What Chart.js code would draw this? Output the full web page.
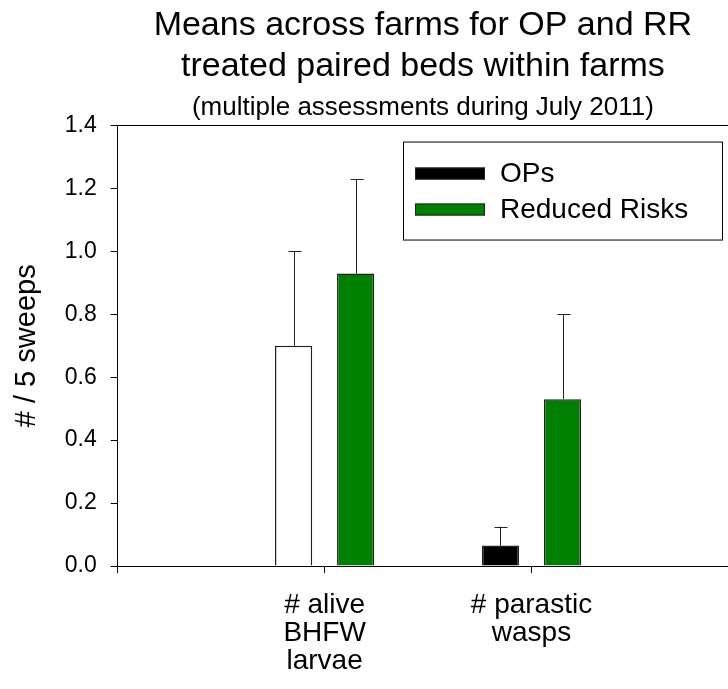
<!DOCTYPE html>
<html lang="en">
<head>
<meta charset="UTF-8">
<title>Means across farms for OP and RR</title>
<script src="https://cdn.jsdelivr.net/npm/chart.js"></script>
<style>
  html, body { margin: 0; padding: 0; background: #fff; }
  .chart { width: 728px; height: 689px; }
</style>
</head>
<body>
<div class="chart"><canvas id="farmChart"></canvas></div>
<script>
const categories = [['# alive', 'BHFW', 'larvae'], ['# parastic', 'wasps']];
const categoryPositions = [1, 2];
const opsMeans = [0.70, 0.065];
const opsErrors = [0.30, 0.06];
const rrMeans = [0.93, 0.53];
const rrErrors = [0.30, 0.27];
const opsFills = ['#ffffff', '#000000'];

const FONT = "'Liberation Sans', Arial, sans-serif";

// upward-only error bars, drawn from each bar top
const errorBars = {
  id: 'errorBars',
  afterDatasetsDraw(chart) {
    const ctx = chart.ctx;
    const yScale = chart.scales.y;
    ctx.save();
    ctx.strokeStyle = '#222';
    ctx.lineWidth = 1;
    chart.data.datasets.forEach((ds, di) => {
      chart.getDatasetMeta(di).data.forEach((bar, i) => {
        const v = ds.data[i].y;
        const yTop = yScale.getPixelForValue(v + ds.errors[i]);
        const x = Math.round(bar.x) + 0.5;
        ctx.beginPath();
        ctx.moveTo(x, bar.y);
        ctx.lineTo(x, yTop);
        ctx.moveTo(x - 6, Math.round(yTop) + 0.5);
        ctx.lineTo(x + 7, Math.round(yTop) + 0.5);
        ctx.stroke();
      });
    });
    ctx.restore();
  }
};

// boxed legend inside the plot, top right
const boxLegend = {
  id: 'boxLegend',
  afterDraw(chart) {
    const ctx = chart.ctx;
    const area = chart.chartArea;
    const right = area.right - 6, top = area.top + 16;
    const w = 319, h = 98;
    const left = right - w;
    ctx.save();
    ctx.strokeStyle = '#000';
    ctx.lineWidth = 1;
    ctx.fillStyle = '#fff';
    ctx.fillRect(left, top, w, h);
    ctx.strokeRect(left + 0.5, top + 0.5, w, h);
    ctx.font = '28px ' + FONT;
    ctx.textBaseline = 'middle';
    chart.data.datasets.forEach((ds, i) => {
      const cy = top + 32 + i * 36;
      ctx.fillStyle = ds.legendColor;
      ctx.fillRect(left + 12, cy - 6, 70, 12);
      ctx.strokeStyle = '#222';
      ctx.strokeRect(left + 12.5, cy - 5.5, 69, 11);
      ctx.fillStyle = '#000';
      ctx.fillText(ds.label, left + 97, cy + 1);
    });
    ctx.restore();
  }
};

new Chart(document.getElementById('farmChart'), {
  type: 'bar',
  data: {
    datasets: [
      {
        label: 'OPs',
        data: categoryPositions.map((x, i) => ({ x, y: opsMeans[i] })),
        errors: opsErrors,
        backgroundColor: opsFills,
        legendColor: '#000000',
        borderColor: '#222',
        borderWidth: 1.5
      },
      {
        label: 'Reduced Risks',
        data: categoryPositions.map((x, i) => ({ x, y: rrMeans[i] })),
        errors: rrErrors,
        backgroundColor: '#008000',
        legendColor: '#008000',
        borderColor: '#222',
        borderWidth: 1.5
      }
    ]
  },
  options: {
    responsive: true,
    maintainAspectRatio: false,
    animation: false,
    categoryPercentage: 0.6,
    barPercentage: 0.6,
    layout: { padding: 0 },
    plugins: {
      legend: { display: false },
      tooltip: { enabled: false },
      title: {
        display: true,
        fullSize: false,
        text: ['Means across farms for OP and RR', 'treated paired beds within farms'],
        color: '#000',
        font: { family: FONT, size: 34, weight: 'normal', lineHeight: 1.18 },
        padding: { top: 6, bottom: 4 }
      },
      subtitle: {
        display: true,
        fullSize: false,
        text: '(multiple assessments during July 2011)',
        color: '#000',
        font: { family: FONT, size: 26, weight: 'normal', lineHeight: 1.05 },
        padding: { top: 4, bottom: 4 }
      }
    },
    scales: {
      x: {
        type: 'linear',
        min: 0,
        max: 2.95,
        offset: false,
        border: { display: true, color: '#000', width: 1 },
        grid: { offset: false, drawOnChartArea: false, tickLength: 7, tickColor: '#000' },
        afterFit: (scale) => { scale.height = 123; },
        ticks: {
          stepSize: 1,
          includeBounds: false,
          autoSkip: false,
          maxRotation: 0,
          padding: 18,
          color: '#000',
          font: { family: FONT, size: 28, lineHeight: 1.0 },
          callback: (value) => {
            const i = categoryPositions.indexOf(value);
            return i >= 0 ? categories[i] : '';
          }
        }
      },
      y: {
        min: 0,
        max: 1.4,
        border: { display: true, color: '#000', width: 1 },
        grid: {
          color: (c) => (c.index === 7 ? '#000' : 'transparent'),
          tickColor: '#000',
          tickLength: 7
        },
        ticks: {
          stepSize: 0.2,
          padding: 14,
          color: '#000',
          font: { family: FONT, size: 23 },
          callback: (value) => value.toFixed(1)
        },
        title: {
          display: true,
          text: '# / 5 sweeps',
          color: '#000',
          font: { family: FONT, size: 29 },
          padding: { top: 10, bottom: 6 }
        }
      }
    }
  },
  plugins: [errorBars, boxLegend]
});
</script>
</body>
</html>
